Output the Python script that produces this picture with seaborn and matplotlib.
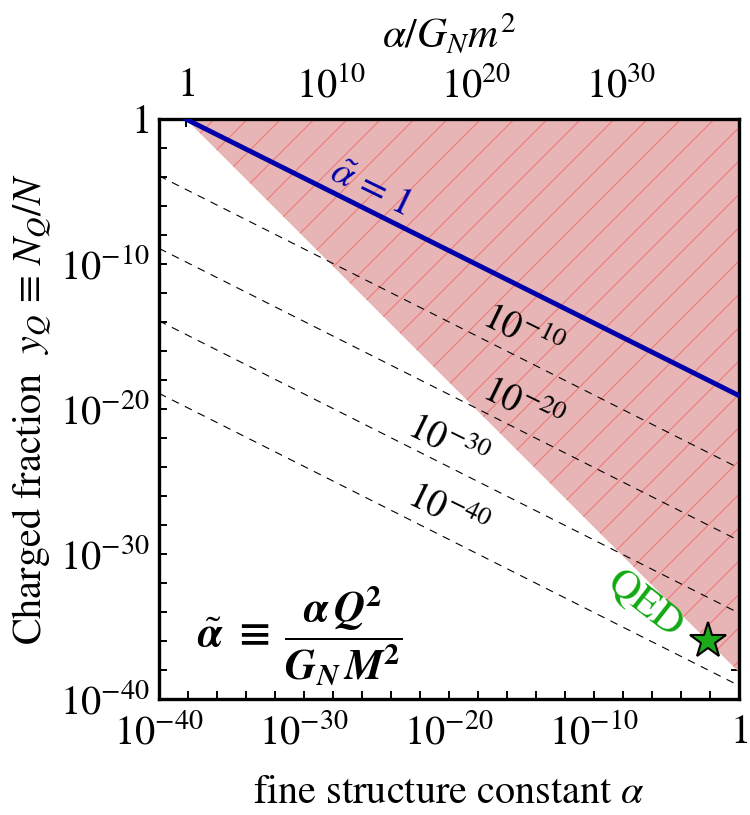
import numpy as np
import pandas as pd
import matplotlib
matplotlib.use("Agg")
import matplotlib.pyplot as plt
import seaborn as sns

# values (log-log, straight lines need two points)
gm2 = 7e-39                      # G_N m^2, sets the top axis and the shaded edge
bound_x = [7e-39, 1.0]           # edge of shaded region  y = G_N m^2 / alpha
bound_y = [1.0, 7e-39]
unit_x = [7e-39, 1.0]            # alpha-tilde = 1
unit_y = [1.0, 8.4e-20]
contour_labels = [r"$\mathit{10}^{\mathit{-10}}$", r"$\mathit{10}^{\mathit{-20}}$",
                  r"$\mathit{10}^{\mathit{-30}}$", r"$\mathit{10}^{\mathit{-40}}$"]
contour_x = [1e-40, 1.0]
contour_y_left = [1.2e-4, 1.2e-9, 1.2e-14, 1.2e-19]
contour_y_right = [8.4e-25, 8.4e-30, 8.4e-35, 8.4e-40]
qed_alpha = 1 / 137
qed_y = 9.6e-37

x_ticks = [1e-40, 1e-30, 1e-20, 1e-10, 1]
x_ticklabels = [r"$10^{-40}$", r"$10^{-30}$", r"$10^{-20}$", r"$10^{-10}$", r"$1$"]
y_ticks = [1e-40, 1e-30, 1e-20, 1e-10, 1]
y_ticklabels = [r"$10^{-40}$", r"$10^{-30}$", r"$10^{-20}$", r"$10^{-10}$", r"$1$"]
top_ticks = [1, 1e10, 1e20, 1e30]
top_ticklabels = [r"$1$", r"$10^{10}$", r"$10^{20}$", r"$10^{30}$"]

sns.set_style("ticks")
plt.rcParams["font.family"] = ["STIXGeneral", "DejaVu Serif"]
plt.rcParams["mathtext.fontset"] = "stix"
plt.rcParams["hatch.linewidth"] = 0.8
plt.rcParams["hatch.color"] = "#f07a7a"
for k in ["text.color", "axes.labelcolor", "xtick.color", "ytick.color", "axes.edgecolor"]:
    plt.rcParams[k] = "black"

fig = plt.figure(figsize=(7.5, 8.15), dpi=100)
ax = fig.add_axes([159 / 750, 116 / 815, 580 / 750, 580 / 815])
ax.set(xscale="log", yscale="log")

# shaded, hatched region
ax.fill_between(bound_x, bound_y, 1.0, facecolor="#e7b5b5", edgecolor="none", lw=0, zorder=1)
ax.fill_between(bound_x, bound_y, 1.0, facecolor="none", edgecolor="#f07a7a", hatch="/", lw=0, zorder=1.5)

# dashed contours
for yl, yr in zip(contour_y_left, contour_y_right):
    sns.lineplot(x=contour_x, y=[yl, yr], ax=ax, color="black", lw=0.8,
                 linestyle=(0, (7, 6)), zorder=2)

# alpha-tilde = 1
sns.lineplot(x=unit_x, y=unit_y, ax=ax, color="#0000aa", lw=3.5, zorder=3)

# QED point
ax.plot([qed_alpha], [qed_y], marker="*", ms=27, color="#1aaa1a", mec="black", mew=1.5,
        zorder=5, clip_on=False)

ax.set_xlim(1e-40, 1)
ax.set_ylim(1e-40, 1)

# ticks
ax.set_xticks(x_ticks, labels=x_ticklabels)
ax.set_yticks(y_ticks, labels=y_ticklabels)
ax.set_xticks([10.0 ** e for e in range(-40, 1, 2)], minor=True)
ax.set_yticks([10.0 ** e for e in range(-40, 1, 2)], minor=True)
ax.tick_params(which="both", direction="in", length=6, width=1.4, right=True, top=False,
               labelsize=29, pad=7)
ax.tick_params(axis="x", pad=11)
ax.tick_params(which="minor", labelbottom=False, labelleft=False)
for s in ax.spines.values():
    s.set_linewidth(2.4)

sec = ax.secondary_xaxis("top", functions=(lambda a: a / gm2, lambda t: t * gm2))
sec.set_xticks(top_ticks, labels=top_ticklabels)
sec.xaxis.set_minor_locator(matplotlib.ticker.NullLocator())
sec.tick_params(direction="in", length=6, width=1.4, labelsize=29, pad=10)
sec.set_xlabel(r"$\alpha/G_N m^2$", fontsize=30, labelpad=14)

ax.set_xlabel(r"fine structure constant $\alpha$", fontsize=29, labelpad=16)
ax.set_ylabel(r"Charged fraction  $y_Q\, \equiv\, N_Q/N$", fontsize=29, labelpad=4)

# annotations
ax.text(10 ** -25.45, 10 ** -4.76, r"$\tilde{\alpha}$ = 1", color="#0000aa", fontsize=28,
        rotation=-26, ha="center", va="center", zorder=4)
label_pos = [(-14.97, -14.76), (-14.97, -19.8), (-20.14, -22.34), (-20.14, -27.1)]
for (lx, ly), lab in zip(label_pos, contour_labels):
    ax.text(10 ** lx, 10 ** ly, lab, fontsize=27, rotation=-26, ha="center", va="center", zorder=4)
ax.text(10 ** -6.5, 10 ** -33.55, "QED", color="#11aa11", fontsize=30,
        rotation=-38, ha="center", va="center", zorder=4)
ax.text(10 ** -30.3, 10 ** -35.6,
        r"$\tilde{\boldsymbol{\alpha}}\ \boldsymbol{\equiv}\ \dfrac{\boldsymbol{\alpha}\, \mathbfit{Q}^{\mathbf{2}}}{\mathbfit{G}_{\mathbfit{N}}\, \mathbfit{M}^{\mathbf{2}}}$",
        fontsize=31, ha="center", va="center", zorder=4)

fig.savefig("out.png", dpi=100)
